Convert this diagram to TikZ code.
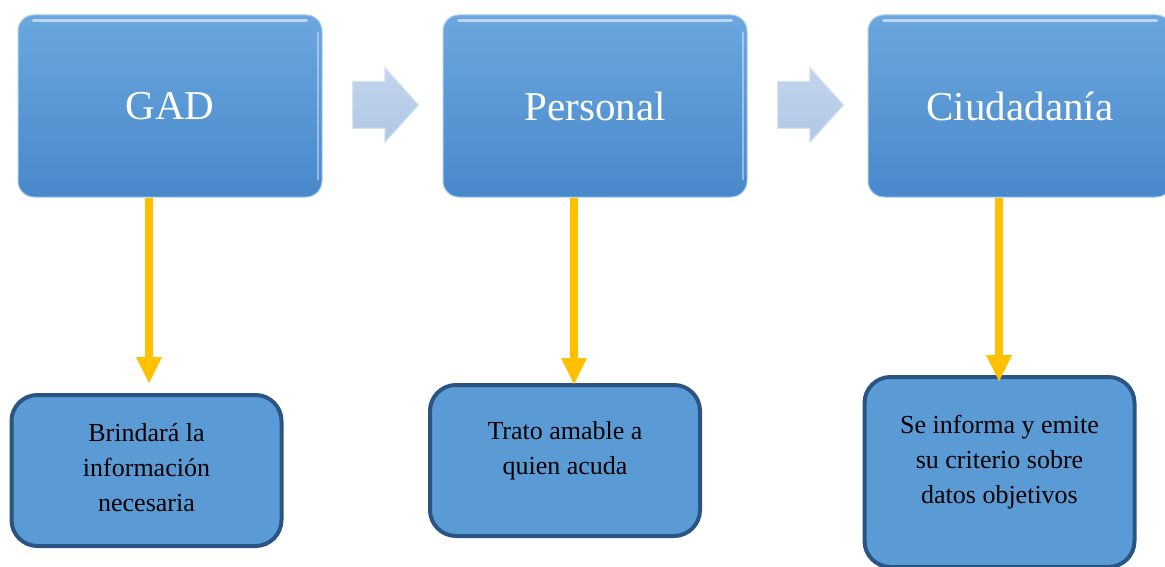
\documentclass[tikz,border=0pt]{standalone}
\usepackage{fontspec}
\setmainfont{Liberation Serif}
\usetikzlibrary{shapes.arrows,arrows.meta}
\definecolor{topblue}{HTML}{6BA7DE}
\definecolor{botblue}{HTML}{4889CB}
\definecolor{lowfill}{HTML}{5B9BD5}
\definecolor{lowline}{HTML}{2A5483}
\definecolor{chevfill}{HTML}{AFC7E6}
\definecolor{gold}{HTML}{FFC000}
\tikzstyle{topbox} = [rectangle, rounded corners=16pt, minimum width=304pt,
	minimum height=182pt, inner sep=0pt, top color=topblue, bottom color=botblue,
	draw=topblue!60!white, line width=1pt, text=white,
	font=\fontsize{41}{49}\selectfont]
\tikzstyle{lowbox} = [rectangle, rounded corners=26pt, minimum width=270pt,
	inner sep=0pt, fill=lowfill, draw=lowline, line width=4pt, align=center,
	font=\fontsize{26}{35}\selectfont]
\tikzstyle{chevron} = [single arrow, single arrow head extend=14pt,
	single arrow tip angle=96, minimum height=66pt, minimum width=74pt,
	text height=23pt, text depth=23pt, inner sep=0pt,
	top color=chevfill!75!white, bottom color=chevfill,
	draw=chevfill!50!white, line width=1pt]
\tikzstyle{gloss} = [white, opacity=0.55, line width=3pt, line cap=round]
\tikzstyle{feed} = [draw=gold, line width=8pt, -{Triangle[width=24pt,length=27pt]}]

\begin{document}
\begin{tikzpicture}[x=1pt,y=-1pt]
				\useasboundingbox (0,0) rectangle (1165,567);
				
				\node [topbox] (gad)        at (170,106)  {GAD};
				\node [topbox] (personal)   at (595,106)  {Personal};
				\node [topbox] (ciudadania) at (1020,106) {Ciudadanía};
				\foreach \n in {gad,personal,ciudadania}{
					\draw [gloss] ([xshift=16pt,yshift=-6pt]\n.north west) -- ([xshift=-16pt,yshift=-6pt]\n.north east);
					\draw [gloss, opacity=0.4, line width=2pt] ([xshift=-5pt,yshift=-18pt]\n.north east) -- ([xshift=-5pt,yshift=18pt]\n.south east);
				}
				
				\node [chevron] (paso1) at (375,105) {};
				\node [chevron] (paso2) at (800,105) {};
				
				\node [lowbox, minimum height=151pt, text depth=6pt] (brindar) at (146.5,470.5)
					{Brindará la\\información\\necesaria};
				\node [lowbox, minimum height=151pt, text depth=26pt] (trato)   at (565,460.5)
					{Trato amable a\\quien acuda};
				\node [lowbox, minimum height=190pt, text depth=26pt] (informa) at (999.5,472)
					{Se informa y emite\\su criterio sobre\\datos objetivos};
				
				\foreach \src/\dst/\gap in {gad/brindar/9pt,personal/trato/-2pt,ciudadania/informa/-7pt}{
					\draw [feed, shorten >=\gap] ([xshift=-21pt]\src.south) -- ([xshift=-21pt]\src.south |- \dst.north);
				}
				
				\end{tikzpicture}
\end{document}
